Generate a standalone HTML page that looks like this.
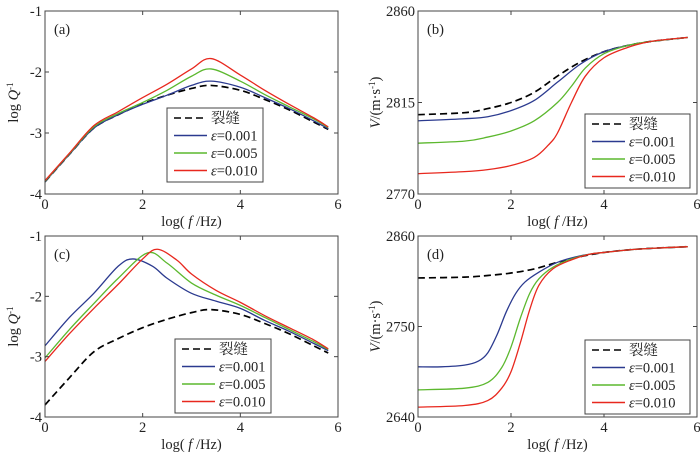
<!DOCTYPE html>
<html><head><meta charset="utf-8"><style>
body{margin:0;background:#fff;width:700px;height:453px;overflow:hidden}
svg text{font-family:"Liberation Serif","Noto Serif CJK SC",serif;font-size:14.5px;fill:#222}
</style></head><body>
<svg id="fig" width="700" height="453"></svg>
<script>
const xTicks=[0,2,4,6];
const aX=[0,0.5,1,1.5,2,2.5,3,3.4,4,4.5,5,5.5,5.8];
const aDash=[-3.8,-3.35,-2.92,-2.7,-2.52,-2.38,-2.27,-2.22,-2.3,-2.45,-2.62,-2.82,-2.94];
const aBlue=[-3.8,-3.35,-2.92,-2.7,-2.53,-2.38,-2.22,-2.15,-2.25,-2.42,-2.6,-2.8,-2.93];
const aGreen=[-3.79,-3.34,-2.9,-2.68,-2.5,-2.3,-2.07,-1.95,-2.15,-2.37,-2.57,-2.77,-2.91];
const aRed=[-3.78,-3.33,-2.88,-2.65,-2.42,-2.2,-1.95,-1.78,-2.05,-2.3,-2.53,-2.75,-2.9];
const cDashX=aX, cDash=aDash;
const cBlueX=[0,0.5,1,1.5,1.8,2.2,2.5,3,3.5,4,4.5,5,5.5,5.8];
const cBlue=[-2.82,-2.35,-1.95,-1.5,-1.38,-1.5,-1.7,-1.95,-2.08,-2.2,-2.4,-2.58,-2.78,-2.9];
const cGreenX=[0,0.5,1,1.5,2.1,2.5,3,3.5,4,4.5,5,5.5,5.8];
const cGreen=[-3.02,-2.55,-2.12,-1.7,-1.28,-1.45,-1.78,-1.98,-2.15,-2.35,-2.55,-2.75,-2.88];
const cRedX=[0,0.5,1,1.5,2,2.3,2.7,3,3.5,4,4.5,5,5.5,5.8];
const cRed=[-3.08,-2.62,-2.2,-1.8,-1.38,-1.22,-1.4,-1.63,-1.9,-2.1,-2.32,-2.52,-2.72,-2.87];
const bDashX=[0,1,1.5,2,2.5,3,3.5,4,4.5,5,5.8];
const bDash=[2809,2810,2812,2815,2820,2828,2835,2840,2843,2845,2847];
const bBlueX=[0,1,1.5,2,2.5,3,3.5,4,4.5,5,5.8];
const bBlue=[2806,2807,2808,2811,2816,2825,2834,2840,2843,2845,2847];
const bGreenX=[0,1,1.5,2,2.5,3,3.3,3.6,4,4.5,5,5.8];
const bGreen=[2795,2796,2798,2801,2806,2815,2823,2832,2839,2843,2845,2847];
const bRedX=[0,1,1.5,2,2.5,2.8,3,3.3,3.6,4,4.5,5,5.8];
const bRed=[2780,2781,2782,2784,2788,2794,2800,2815,2828,2837,2842,2845,2847];
const dDashX=bDashX, dDash=bDash;
const dBlueX=[0,0.5,1,1.3,1.5,1.7,1.9,2.1,2.3,2.6,3,3.5,4,4.5,5,5.8];
const dBlue=[2701,2701,2703,2708,2718,2740,2768,2790,2804,2816,2828,2836,2840,2843,2845,2847];
const dGreenX=[0,1,1.5,1.8,2,2.2,2.4,2.6,2.9,3.3,3.7,4,4.5,5,5.8];
const dGreen=[2673,2675,2682,2700,2725,2760,2790,2808,2822,2832,2838,2840,2843,2845,2847];
const dRedX=[0,1,1.5,1.8,2,2.2,2.4,2.6,2.9,3.3,3.7,4,4.5,5,5.8];
const dRed=[2652,2654,2660,2675,2695,2730,2770,2800,2820,2831,2838,2840,2843,2845,2847];
const aTicks=[-4,-3,-2,-1], bTicks=[2770,2815,2860], dTicks=[2640,2750,2860];

const NS="http://www.w3.org/2000/svg", svg=document.getElementById('fig');
function el(t,a,p){const e=document.createElementNS(NS,t);for(const k in a)e.setAttribute(k,a[k]);(p||svg).appendChild(e);return e;}
const colors={dash:'#000',blue:'#2b3a8f',green:'#5cb82e',red:'#e8281e'};
function smooth(P){
  let d='M'+P[0][0]+','+P[0][1];
  for(let i=0;i<P.length-1;i++){
    const p0=P[Math.max(0,i-1)],p1=P[i],p2=P[i+1],p3=P[Math.min(P.length-1,i+2)];
    const c1=[p1[0]+(p2[0]-p0[0])/6,p1[1]+(p2[1]-p0[1])/6];
    const c2=[p2[0]-(p3[0]-p1[0])/6,p2[1]-(p3[1]-p1[1])/6];
    d+=` C${c1[0]},${c1[1]} ${c2[0]},${c2[1]} ${p2[0]},${p2[1]}`;
  }
  return d;
}
function panel(name,L,T,R,B,ymin,ymax,yt,ylabel,series,leg,lab){
  const g=el('g',{});
  
  
  const sx=v=>L+(v-0)/6*(R-L), sy=v=>B-(v-ymin)/(ymax-ymin)*(B-T);
  series.forEach(s=>{
    const pts=s.x.map((v,i)=>[sx(v),sy(s.y[i])]);
    const p=el('path',{d:smooth(pts),fill:'none',stroke:colors[s.c],'stroke-width':s.c=='dash'?1.7:1.3,'stroke-dasharray':s.c=='dash'?'7,4':'none'},g);
    
    
  });
  const fr=el('rect',{x:L,y:T,width:R-L,height:B-T,fill:'none',stroke:'#444','stroke-width':1},g);
  
  
  xTicks.forEach(v=>{const x=sx(v);el('line',{x1:x,x2:x,y1:B,y2:B-4,stroke:'#444'},g);el('line',{x1:x,x2:x,y1:T,y2:T+4,stroke:'#444'},g);
    const t=el('text',{x:x,y:B+15,'text-anchor':'middle'},g);t.textContent=v;
    
    });
  yt.forEach(v=>{const y=sy(v);el('line',{x1:L,x2:L+4,y1:y,y2:y,stroke:'#444'},g);el('line',{x1:R,x2:R-4,y1:y,y2:y,stroke:'#444'},g);
    const t=el('text',{x:L-3,y:y+5,'text-anchor':'end'},g);t.textContent=v;
    
    });
  const xt=el('text',{x:(L+R)/2,y:B+32,'text-anchor':'middle'},g);
  xt.innerHTML='log( <tspan font-style="italic">f</tspan> /Hz)';
  
  
  const yx=L-(yt[0]>100?38:27);
  const ytl=el('text',{x:yx,y:(T+B)/2,'text-anchor':'middle',transform:`rotate(-90 ${yx} ${(T+B)/2})`},g);
  ytl.innerHTML=ylabel;
  
  
  const pl=el('text',{x:L+9,y:T+23},g);pl.textContent=lab;
  
  
  const lg=el('g',{},g);
  
  
  el('rect',{x:leg[0],y:leg[1],width:leg[2],height:leg[3],fill:'#fff',stroke:'#444'},lg);
  const items=[['dash','裂缝'],['blue','0.001'],['green','0.005'],['red','0.010']];
  items.forEach((it,i)=>{const y=leg[1]+10+i*17.5;
    el('line',{x1:leg[0]+7,x2:leg[0]+40,y1:y,y2:y,stroke:colors[it[0]],'stroke-width':1.6,'stroke-dasharray':it[0]=='dash'?'7,4':'none'},lg);
    const t=el('text',{x:leg[0]+44,y:y+5},lg);
    t.innerHTML=it[0]=='dash'?it[1]:'<tspan font-style="italic">ε</tspan>='+it[1];
    
    });
}
const qlab='log <tspan font-style="italic">Q</tspan><tspan font-size="9" dy="-5">-1</tspan>';
const vlab='<tspan font-style="italic">V</tspan>/(m·s<tspan font-size="9" dy="-5">-1</tspan><tspan dy="5">)</tspan>';
panel('a',45,11,338,194,-4,-1,aTicks,qlab,[{x:aX,y:aDash,c:'dash'},{x:aX,y:aBlue,c:'blue'},{x:aX,y:aGreen,c:'green'},{x:aX,y:aRed,c:'red'}],[167,108,96,74],'(a)');
panel('b',418,11,697,194,2770,2860,bTicks,vlab,[{x:bDashX,y:bDash,c:'dash'},{x:bBlueX,y:bBlue,c:'blue'},{x:bGreenX,y:bGreen,c:'green'},{x:bRedX,y:bRed,c:'red'}],[585,114,105,74],'(b)');
panel('c',45,236,338,417,-4,-1,aTicks,qlab,[{x:cDashX,y:cDash,c:'dash'},{x:cBlueX,y:cBlue,c:'blue'},{x:cGreenX,y:cGreen,c:'green'},{x:cRedX,y:cRed,c:'red'}],[175,339,96,74],'(c)');
panel('d',418,236,697,417,2640,2860,dTicks,vlab,[{x:dDashX,y:dDash,c:'dash'},{x:dBlueX,y:dBlue,c:'blue'},{x:dGreenX,y:dGreen,c:'green'},{x:dRedX,y:dRed,c:'red'}],[585,340,105,74],'(d)');
</script>
</body></html>
